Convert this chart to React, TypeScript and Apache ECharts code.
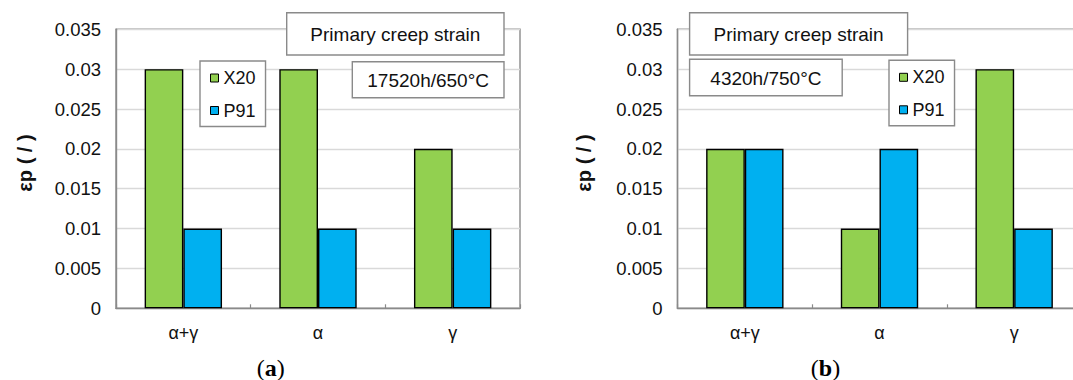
import React, { useEffect, useRef } from "react";
import * as echarts from "echarts";

// Phase categories shared by both panels
const phases = ["α+γ", "α", "γ"];

// Panel (a): 17520 h at 650 °C
const x20At650 = [0.03, 0.03, 0.02];
const p91At650 = [0.01, 0.01, 0.01];

// Panel (b): 4320 h at 750 °C
const x20At750 = [0.02, 0.01, 0.03];
const p91At750 = [0.02, 0.02, 0.01];

const seriesNames = ["X20", "P91"];
const yTicks = { min: 0, max: 0.035, interval: 0.005 };

const chartTitle = "Primary creep strain";
const conditionA = "17520h/650°C";
const conditionB = "4320h/750°C";
const yTitle = "εp ( / )";

const GREEN = "#92D050";
const BLUE = "#00B0F0";
const FRAME = "#8a8a8a";
const SANS = "'Liberation Sans', Arial, Helvetica, sans-serif";
const SERIF = "'Liberation Serif', 'Times New Roman', serif";

function labelBox(x: number, y: number, w: number, h: number, text: string) {
  return {
    type: "group",
    z: 100,
    children: [
      {
        type: "rect",
        shape: { x, y, width: w, height: h },
        style: { fill: "#fff", stroke: FRAME, lineWidth: 1.4 },
        z: 100,
      },
      {
        type: "text",
        x: x + w / 2,
        y: y + h / 2 + 1,
        z: 101,
        style: {
          text,
          align: "center",
          verticalAlign: "middle",
          font: `19px ${SANS}`,
          fill: "#111",
        },
      },
    ],
  };
}

function panelLetter(x: number, y: number, letter: string) {
  return {
    type: "text",
    x,
    y,
    z: 100,
    style: {
      text: `{p|(}{b|${letter}}{p|)}`,
      align: "center",
      verticalAlign: "middle",
      rich: {
        p: { fontFamily: SERIF, fontSize: 24, fill: "#000" },
        b: { fontFamily: SERIF, fontSize: 24, fontWeight: "bold", fill: "#000" },
      },
    },
  };
}

function yAxisTitle(x: number, y: number) {
  return {
    type: "text",
    x,
    y,
    rotation: Math.PI / 2,
    z: 100,
    style: {
      text: yTitle,
      align: "center",
      verticalAlign: "middle",
      font: `bold 20px ${SANS}`,
      fill: "#111",
    },
  };
}

export default function App() {
  const ref = useRef<HTMLDivElement>(null);

  useEffect(() => {
    if (!ref.current) return;
    const chart = echarts.init(ref.current, undefined, { renderer: "svg" });

    const grids = [
      { left: 116, top: 29.3, width: 404, height: 279 },
      { left: 677.5, top: 29.3, width: 404, height: 279 },
    ].map((g) => ({
      ...g,
      show: true,
      borderColor: FRAME,
      borderWidth: 1.4,
      backgroundColor: "transparent",
      outerBoundsMode: "none",
      containLabel: false,
    }));

    const xAxes = [0, 1].map((i) => ({
      type: "category",
      gridIndex: i,
      data: phases,
      axisLine: { lineStyle: { color: FRAME, width: 1.4 } },
      axisTick: { show: true, inside: true, length: 4, lineStyle: { color: FRAME, width: 1.2 } },
      axisLabel: { color: "#111", fontSize: 18, fontFamily: SANS, margin: 16 },
      splitLine: { show: false },
    }));

    const yAxes = [0, 1].map((i) => ({
      type: "value",
      gridIndex: i,
      min: yTicks.min,
      max: yTicks.max,
      interval: yTicks.interval,
      axisLine: { show: true, lineStyle: { color: FRAME, width: 1.4 } },
      axisTick: { show: false },
      axisLabel: {
        color: "#111",
        fontSize: 18.5,
        fontFamily: SANS,
        margin: 15,
        formatter: (v: number) => String(parseFloat(v.toFixed(4))),
      },
      splitLine: { lineStyle: { color: "#d9d9d9", width: 1.4 } },
    }));

    const bar = (name: string, data: number[], color: string, idx: number) => ({
      type: "bar",
      name,
      data,
      xAxisIndex: idx,
      yAxisIndex: idx,
      barWidth: 38.7,
      barGap: "0%",
      itemStyle: { color, borderColor: "#000", borderWidth: 1.4 },
    });

    const legend = (left: number, top: number) => ({
      data: seriesNames,
      orient: "vertical",
      left,
      top,
      icon: "rect",
      itemWidth: 8,
      itemHeight: 8,
      itemGap: 12.5,
      padding: [7, 10, 6, 10],
      backgroundColor: "#fff",
      borderColor: FRAME,
      borderWidth: 1.4,
      itemStyle: { borderColor: "#000", borderWidth: 1 },
      textStyle: { color: "#111", fontSize: 18, fontFamily: SANS, lineHeight: 20 },
      z: 100,
    });

    chart.setOption({
      animation: false,
      backgroundColor: "#fff",
      textStyle: { fontFamily: SANS },
      grid: grids,
      xAxis: xAxes,
      yAxis: yAxes,
      legend: [legend(200, 61), legend(889, 60.3)],
      series: [
        bar(seriesNames[0], x20At650, GREEN, 0),
        bar(seriesNames[1], p91At650, BLUE, 0),
        bar(seriesNames[0], x20At750, GREEN, 1),
        bar(seriesNames[1], p91At750, BLUE, 1),
      ],
      graphic: [
        labelBox(286.7, 12.7, 217.3, 42.3, chartTitle),
        labelBox(352.3, 61.7, 151.7, 36, conditionA),
        labelBox(689.6, 12.7, 218, 42.3, chartTitle),
        labelBox(689.6, 59.3, 152.6, 36.4, conditionB),
        yAxisTitle(25.4, 163),
        yAxisTitle(584.2, 163),
        panelLetter(270.7, 368, "a"),
        panelLetter(825.5, 368, "b"),
      ],
    });

    return () => chart.dispose();
  }, []);

  return (
    <div
      ref={ref}
      style={{ position: "fixed", left: 0, top: 0, width: 1073, height: 380, background: "#fff" }}
    />
  );
}
